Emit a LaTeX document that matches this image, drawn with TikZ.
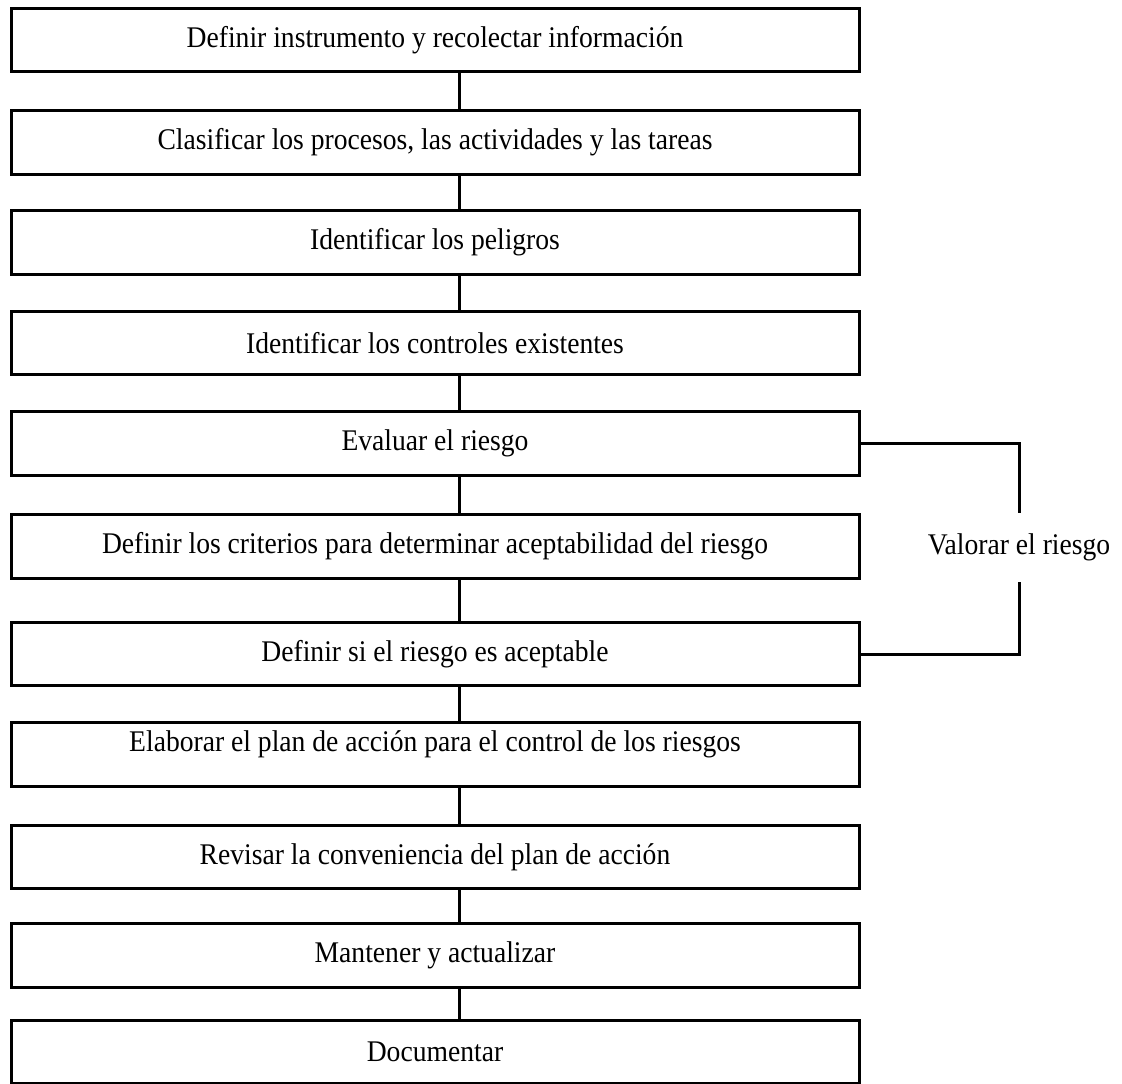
\documentclass[tikz,border=0pt]{standalone}
\usepackage{fontspec}
\setmainfont{Liberation Serif}[FakeStretch=0.92]

\tikzset{every picture/.style={line width=2.25pt}}
\tikzset{
  stepbox/.style={draw, rectangle, minimum width=636pt, minimum height=47.5pt, inner sep=0pt, font=\fontsize{22.5}{26}\selectfont},
  toptext/.style={text height=10pt, text depth=15.25pt}
}

\begin{document}
\begin{tikzpicture}[x=0.75pt,y=0.75pt,yscale=-1,xscale=1]
	\useasboundingbox (0,0) rectangle (1122,1084);

	% Boxes
	\node [stepbox] (b1) at (435,40) {Definir instrumento y recolectar información};
	\node [stepbox] (b2) at (435,142.5) {Clasificar los procesos, las actividades y las tareas};
	\node [stepbox] (b3) at (435,242.5) {Identificar los peligros};
	\node [stepbox] (b4) at (435,343) {Identificar los controles existentes};
	\node [stepbox] (b5) at (435,443.5) {Evaluar el riesgo};
	\node [stepbox] (b6) at (435,546.5) {Definir los criterios para determinar aceptabilidad del riesgo};
	\node [stepbox] (b7) at (435,654) {Definir si el riesgo es aceptable};
	\node [stepbox, toptext] (b8) at (435,754.5) {Elaborar el plan de acción para el control de los riesgos};
	\node [stepbox] (b9) at (435,857) {Revisar la conveniencia del plan de acción};
	\node [stepbox] (b10) at (435,955.5) {Mantener y actualizar};
	\node [stepbox] (b11) at (435,1052) {Documentar};

	% Connectors
	\coordinate (ax) at (459,0);
	\foreach \a/\b in {b1/b2,b2/b3,b3/b4,b4/b5,b5/b6,b6/b7,b7/b8,b8/b9,b9/b10,b10/b11}
		\draw (\a.south -| ax) -- (\b.north -| ax);

	% Bracket
	\node [inner sep=0pt, minimum height=49.5pt, font=\fontsize{22.5}{26}\selectfont] (val) at (1019,547.5) {Valorar el riesgo};
	\draw (b5.east) -| (val.north);
	\draw (b7.east) -| (val.south);

\end{tikzpicture}
\end{document}
